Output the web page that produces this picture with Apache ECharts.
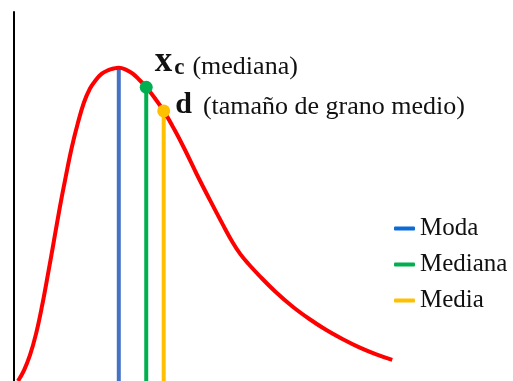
<!DOCTYPE html>
<html><head><meta charset="utf-8">
<script src="https://cdn.jsdelivr.net/npm/echarts@6/dist/echarts.min.js"></script>
<style>html,body{margin:0;padding:0;background:#fff}#c{width:513px;height:381px}</style>
</head><body><div id="c"></div>
<script>
// Distribution curve (grain size vs. frequency)
const curveX = [0.08,0.20,0.32,0.44,0.56,0.68,0.80,0.92,1.04,1.16,1.28,1.40,1.52,1.64,1.76,1.88,2.00,2.10,2.24,2.38,2.52,2.64,2.82,3.00,3.22,3.42,3.66,3.92,4.18,4.38,4.54,4.70,4.92,5.24,5.58,5.92,6.26,6.62,6.92,7.26,7.58];
const curveY = [0.000,0.029,0.070,0.127,0.202,0.289,0.380,0.472,0.556,0.634,0.699,0.754,0.792,0.816,0.833,0.842,0.847,0.849,0.844,0.833,0.815,0.798,0.767,0.732,0.680,0.628,0.561,0.492,0.425,0.376,0.343,0.317,0.285,0.242,0.202,0.168,0.138,0.111,0.091,0.072,0.057];
// Mode, median, mean
const statNames = ['Moda','Mediana','Media'];
const statX = [2.10, 2.65, 3.00];
const statY = [0.849, 0.796, 0.732];

const lineColors = ['#4472C4','#00B050','#FFC000'];
const legendColors = ['#0A6AD6','#00B050','#FFC000'];
const serif = '"Liberation Serif", "DejaVu Serif", serif';
const ink = '#111';

const chart = echarts.init(document.getElementById('c'), null, {renderer:'canvas'});

const series = [];
statNames.forEach((n,i)=>{
  series.push({
    name:n, type:'line', z:2, showSymbol:false, silent:true,
    data:[[statX[i],0],[statX[i],statY[i]]],
    lineStyle:{color:lineColors[i], width:4},
    itemStyle:{color:legendColors[i]}
  });
});
series.push({
  name:'curve', type:'line', z:3, smooth:0.4, showSymbol:false, silent:true,
  data: curveX.map((x,i)=>[x,curveY[i]]),
  lineStyle:{color:'#FF0000', width:4}
});
series.push({
  name:'dots', type:'scatter', z:4, symbolSize:13, silent:true,
  data:[
    {value:[statX[1],statY[1]], itemStyle:{color:lineColors[1], opacity:1},
     label:{show:true, position:'right', distance:2, offset:[0,-22], color:ink, textBorderWidth:0,
       formatter:'{x|x}{c|c}{n|(mediana)}',
       rich:{
         x:{fontFamily:serif, fontWeight:'bold', fontSize:35, color:ink, verticalAlign:'bottom', lineHeight:29},
         c:{fontFamily:serif, fontWeight:'bold', fontSize:23, color:ink, verticalAlign:'bottom', lineHeight:20, padding:[0,8,0,2]},
         n:{fontFamily:serif, fontSize:26, color:ink, verticalAlign:'bottom', lineHeight:28}
       }}},
    {value:[statX[2],statY[2]], itemStyle:{color:lineColors[2], opacity:1},
     label:{show:true, position:'right', distance:2, offset:[3,-5], color:ink, textBorderWidth:0,
       formatter:'{d|d}{n|(tamaño de grano medio)}',
       rich:{
         d:{fontFamily:serif, fontWeight:'bold', fontSize:30, color:ink, verticalAlign:'bottom', lineHeight:29, padding:[0,11,0,0]},
         n:{fontFamily:serif, fontSize:26, color:ink, verticalAlign:'bottom', lineHeight:28}
       }}}
  ]
});

chart.setOption({
  animation:false,
  backgroundColor:'#fff',
  grid:{left:14, top:12, width:500, height:369, containLabel:false},
  xAxis:{type:'value', min:0, max:10, axisLine:{show:false}, axisTick:{show:false}, axisLabel:{show:false}, splitLine:{show:false}},
  yAxis:{type:'value', min:0, max:1, axisLine:{show:true, lineStyle:{color:'#000', width:2}}, axisTick:{show:false}, axisLabel:{show:false}, splitLine:{show:false}},
  legend:{
    orient:'vertical', left:389, top:211, icon:'roundRect', itemWidth:21, itemHeight:4, itemGap:11,
    selectedMode:false,
    textStyle:{fontFamily:serif, fontSize:25, color:ink, lineHeight:25},
    data: statNames.map((n,i)=>({name:n, itemStyle:{color:legendColors[i]}}))
  },
  series
});
</script>
</body></html>
